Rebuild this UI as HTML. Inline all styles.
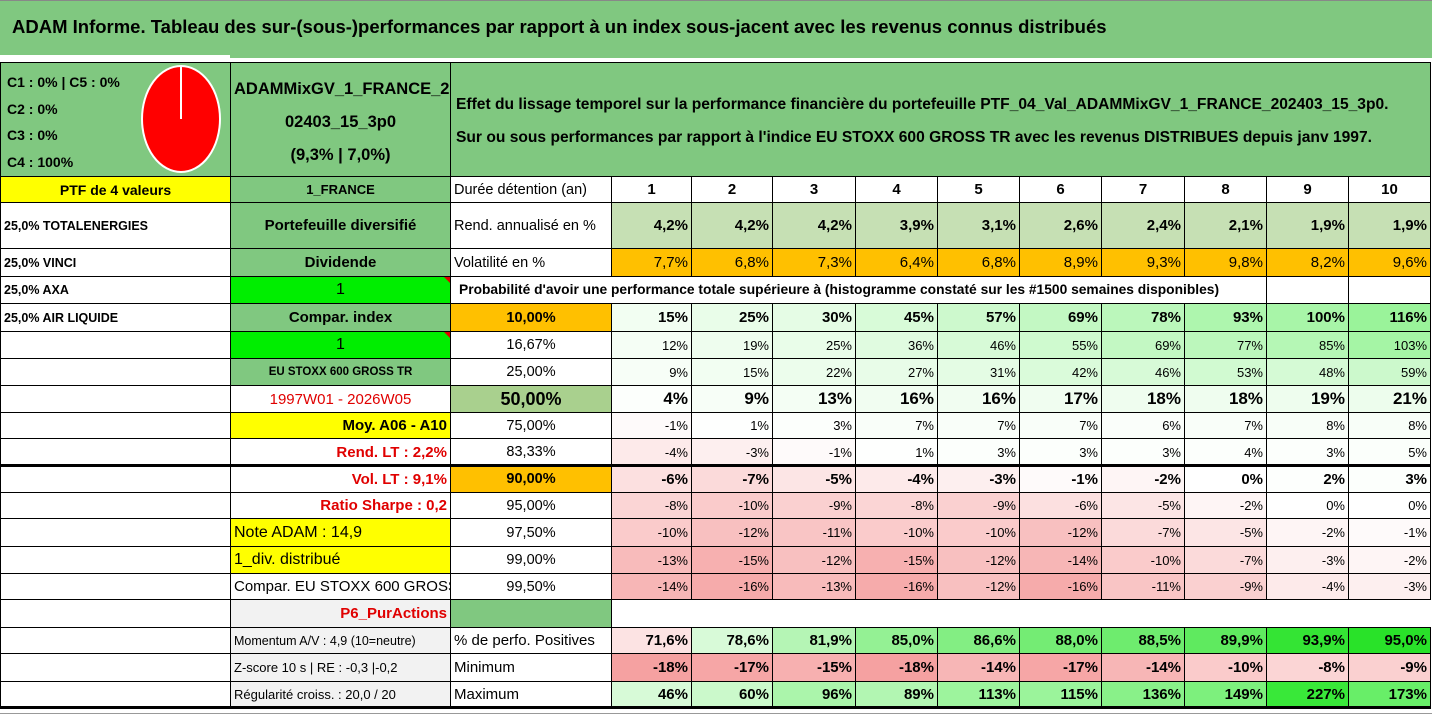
<!DOCTYPE html>
<html><head><meta charset="utf-8"><style>
body{margin:0;width:1432px;height:717px;background:#fff;overflow:hidden;position:relative;font-family:"Liberation Sans",Arial,sans-serif;}
.c{position:absolute;box-sizing:border-box;border:1px solid #000;overflow:hidden;white-space:nowrap;display:flex;align-items:center;color:#000;}
.nb{border:none;}
</style></head><body>
<div style="position:absolute;left:0;top:0;width:1432px;height:55px;background:#80c880;border-top:1px solid #888;box-sizing:border-box"></div>
<div style="position:absolute;left:12px;top:16px;font-size:18.5px;font-weight:bold;white-space:nowrap">ADAM Informe. Tableau des sur-(sous-)performances par rapport à un index sous-jacent avec les revenus connus distribués</div>
<div style="position:absolute;left:230px;top:54px;width:1202px;height:4px;background:#80c880"></div>
<div id="t"></div>
<script>
const X=[0,230,450,611,691,772,855,937,1019,1101,1184,1266,1348,1430];
const Y=[62,176,202,248,276,303,331,358,385,412,438,465,492,518,546,573,599,627,653,681,707];
const years=[1,2,3,4,5,6,7,8,9,10];
const rendAnn=[4.2,4.2,4.2,3.9,3.1,2.6,2.4,2.1,1.9,1.9];
const volat=[7.7,6.8,7.3,6.4,6.8,8.9,9.3,9.8,8.2,9.6];
const thresholds=['10,00%','16,67%','25,00%','50,00%','75,00%','83,33%','90,00%','95,00%','97,50%','99,00%','99,50%'];
const probP10=[15,25,30,45,57,69,78,93,100,116];
const probP17=[12,19,25,36,46,55,69,77,85,103];
const probP25=[9,15,22,27,31,42,46,53,48,59];
const probP50=[4,9,13,16,16,17,18,18,19,21];
const probP75=[-1,1,3,7,7,7,6,7,8,8];
const probP83=[-4,-3,-1,1,3,3,3,4,3,5];
const probP90=[-6,-7,-5,-4,-3,-1,-2,0,2,3];
const probP95=[-8,-10,-9,-8,-9,-6,-5,-2,0,0];
const probP975=[-10,-12,-11,-10,-10,-12,-7,-5,-2,-1];
const probP99=[-13,-15,-12,-15,-12,-14,-10,-7,-3,-2];
const probP995=[-14,-16,-13,-16,-12,-16,-11,-9,-4,-3];
const pctPos=[71.6,78.6,81.9,85.0,86.6,88.0,88.5,89.9,93.9,95.0];
const minimum=[-18,-17,-15,-18,-14,-17,-14,-10,-8,-9];
const maximum=[46,60,96,89,113,115,136,149,227,173];
const probRows=[probP10,probP17,probP25,probP50,probP75,probP83,probP90,probP95,probP975,probP99,probP995];

const root=document.body;
function fmt(v,d){return (d?v.toFixed(d):String(Math.round(v))).replace('.',',')+'%';}
function mix(a,b,t){t=Math.max(0,Math.min(1,t));return 'rgb('+a.map((x,i)=>Math.round(x+(b[i]-x)*t)).join(',')+')';}
function heat(v){return v>=0?mix([255,255,255],[20,228,20],v/270):mix([255,255,255],[244,150,150],-v/20);}
function heatPos(v){return v>=75?mix([255,255,255],[30,225,30],(v-75)/21):mix([255,255,255],[250,205,205],(75-v)/6);}
function cell(name,c0,c1,r0,r1,txt,st){
  const el=document.createElement('div');
  el.className='c';
  
  
  el.style.left=X[c0]+'px';el.style.top=Y[r0]+'px';
  el.style.width=(X[c1]-X[c0]+1)+'px';el.style.height=(Y[r1]-Y[r0]+1)+'px';
  el.style.fontSize='13px';el.style.justifyContent='center';el.style.padding='0 3px';
  if(st)Object.assign(el.style,st);
  el.textContent=txt;
  root.appendChild(el);return el;
}
const G='#80c880',YEL='#ffff00',OR='#ffc000',BG='#00ee00',GR='#f2f2f2',RED='#e00000';
const L={justifyContent:'flex-start'},R={justifyContent:'flex-end'};
const h0=cell('composition-box',0,1,0,1,'',{background:G,display:'block'});
h0.innerHTML='<div style="position:absolute;left:6px;top:6px;font-size:14px;line-height:26.5px;font-weight:bold">C1 : 0% | C5 : 0%<br>C2 : 0%<br>C3 : 0%<br>C4 : 100%</div><svg style="position:absolute;left:0;top:0" width="230" height="114"><ellipse cx="180" cy="56" rx="39" ry="53" fill="#ff0000" stroke="#fff" stroke-width="2"/><line x1="180" y1="56" x2="180" y2="3" stroke="#fff" stroke-width="2"/></svg>';
cell('portfolio-name',1,2,0,1,'',{background:G,display:'block',whiteSpace:'normal'}).innerHTML='<div style="text-align:center;font-size:16.5px;font-weight:bold;line-height:33px;padding-top:10px">ADAMMixGV_1_FRANCE_2<br>02403_15_3p0<br>(9,3% | 7,0%)</div>';
cell('chart-description',2,13,0,1,'',{background:G,display:'block'}).innerHTML='<div style="font-size:15.6px;font-weight:bold;line-height:33px;padding-top:25px;padding-left:2px">Effet du lissage temporel sur la performance financière du portefeuille PTF_04_Val_ADAMMixGV_1_FRANCE_202403_15_3p0.<br>Sur ou sous performances par rapport à l\'indice EU STOXX 600 GROSS TR avec les revenus DISTRIBUES depuis janv 1997.</div>';
const left=['PTF de 4 valeurs','25,0% TOTALENERGIES','25,0% VINCI','25,0% AXA','25,0% AIR LIQUIDE'];
for(let r=0;r<19;r++){
  const t=r<5?left[r]:'';
  if(r===0)cell('ptf-count',0,1,1,2,t,{background:YEL,fontWeight:'bold',fontSize:'14px'});
  else cell('holding-row',0,1,r+1,r+2,t,Object.assign({fontWeight:'bold',fontSize:'12.5px'},L));
}
const c1=[['1_FRANCE',{background:G,fontSize:'13px',fontWeight:'bold'}],['Portefeuille diversifié',{background:G,fontWeight:'bold',fontSize:'15px'}],['Dividende',{background:G,fontWeight:'bold',fontSize:'15px'}],['1',{background:BG,fontSize:'16px'}],['Compar. index',{background:G,fontWeight:'bold',fontSize:'15px'}],['1',{background:BG,fontSize:'16px'}],['EU STOXX 600 GROSS TR',{background:G,fontSize:'11.5px',fontWeight:'bold'}],['1997W01 - 2026W05',{color:RED,fontSize:'15px'}],['Moy. A06 - A10',Object.assign({background:YEL,fontWeight:'bold',fontSize:'15px'},R)],['Rend. LT : 2,2%',Object.assign({color:RED,fontWeight:'bold',fontSize:'15px'},R)],['Vol. LT : 9,1%',Object.assign({color:RED,fontWeight:'bold',fontSize:'15px'},R)],['Ratio Sharpe : 0,2',Object.assign({color:RED,fontWeight:'bold',fontSize:'15px'},R)],['Note ADAM : 14,9',Object.assign({background:YEL,fontSize:'16px'},L)],['1_div. distribué',Object.assign({background:YEL,fontSize:'16px'},L)],['Compar. EU STOXX 600 GROSS TR',Object.assign({fontSize:'15px'},L)],['P6_PurActions',Object.assign({background:GR,color:RED,fontWeight:'bold',fontSize:'15px'},R)],['Momentum A/V : 4,9 (10=neutre)',Object.assign({background:GR,fontSize:'12.5px'},L)],['Z-score 10 s | RE : -0,3 |-0,2',Object.assign({background:GR,fontSize:'13px'},L)],['Régularité croiss. : 20,0 / 20',Object.assign({background:GR,fontSize:'13px'},L)]];
c1.forEach((d,i)=>{const e=cell('info-cell',1,2,i+1,i+2,d[0],d[1]);
 if(d[0]==='1'){const tri=document.createElement('div');tri.style.cssText='position:absolute;right:0;top:0;width:0;height:0;border-left:6px solid transparent;border-top:6px solid #e00000';e.appendChild(tri);}});
cell('duration-label',2,3,1,2,'Durée détention (an)',Object.assign({fontSize:'14.5px'},L));
cell('return-label',2,3,2,3,'Rend. annualisé en %',Object.assign({fontSize:'14.5px'},L));
cell('volatility-label',2,3,3,4,'Volatilité en %',Object.assign({fontSize:'14.5px'},L));
cell('probability-caption',2,11,4,5,'Probabilité d\'avoir une performance totale supérieure à (histogramme constaté sur les #1500 semaines disponibles)',Object.assign({fontSize:'13.8px',fontWeight:'bold',border:'none',borderBottom:'1px solid #000',paddingLeft:'9px'},L));
cell('blank-cell',11,12,4,5,'');cell('blank-cell',12,13,4,5,'');
years.forEach((v,i)=>cell('year-header',i+3,i+4,1,2,String(v),{fontWeight:'bold',fontSize:'15px'}));
rendAnn.forEach((v,i)=>cell('return-value',i+3,i+4,2,3,fmt(v,1),Object.assign({background:'#c6e0b4',fontWeight:'bold',fontSize:'15px'},R)));
volat.forEach((v,i)=>cell('volatility-value',i+3,i+4,3,4,fmt(v,1),Object.assign({background:OR,fontSize:'15px'},R)));
probRows.forEach((row,r)=>{
  const bold=(r===0||r===3||r===6);const big=r===3;
  const bg=r===3?'#a9d08e':(r===0||r===6)?OR:'#fff';
  cell('threshold',2,3,r+5,r+6,thresholds[r],{background:bg,fontWeight:bold?'bold':'normal',fontSize:big?'18px':'14.5px'});
  row.forEach((v,i)=>cell('heat-cell',i+3,i+4,r+5,r+6,fmt(v),Object.assign({background:heat(v),fontWeight:bold?'bold':'normal',fontSize:big?'17px':(bold?'15px':'13px')},R)));
});
cell('spacer-green',2,3,16,17,'',{background:G});
cell('spacer-white',3,13,16,17,'',{border:'none',borderTop:'1px solid #000',borderBottom:'1px solid #000'});
cell('positive-label',2,3,17,18,'% de perfo. Positives',Object.assign({fontSize:'15px'},L));
cell('minimum-label',2,3,18,19,'Minimum',Object.assign({fontSize:'15px'},L));
cell('maximum-label',2,3,19,20,'Maximum',Object.assign({fontSize:'15px'},L));
pctPos.forEach((v,i)=>cell('positive-value',i+3,i+4,17,18,fmt(v,1),Object.assign({background:heatPos(v),fontWeight:'bold',fontSize:'15px'},R)));
minimum.forEach((v,i)=>cell('minimum-value',i+3,i+4,18,19,fmt(v),Object.assign({background:heat(v),fontWeight:'bold',fontSize:'15px'},R)));
maximum.forEach((v,i)=>cell('maximum-value',i+3,i+4,19,20,fmt(v),Object.assign({background:heat(v),fontWeight:'bold',fontSize:'15px'},R)));
</script>
<div style="position:absolute;left:0;top:464px;width:1431px;height:3px;background:#000"></div>
<div style="position:absolute;left:0;top:706px;width:1431px;height:3px;background:#000"></div>
<div style="position:absolute;left:0;top:713px;width:1432px;height:1px;background:#999"></div>
</body></html>
